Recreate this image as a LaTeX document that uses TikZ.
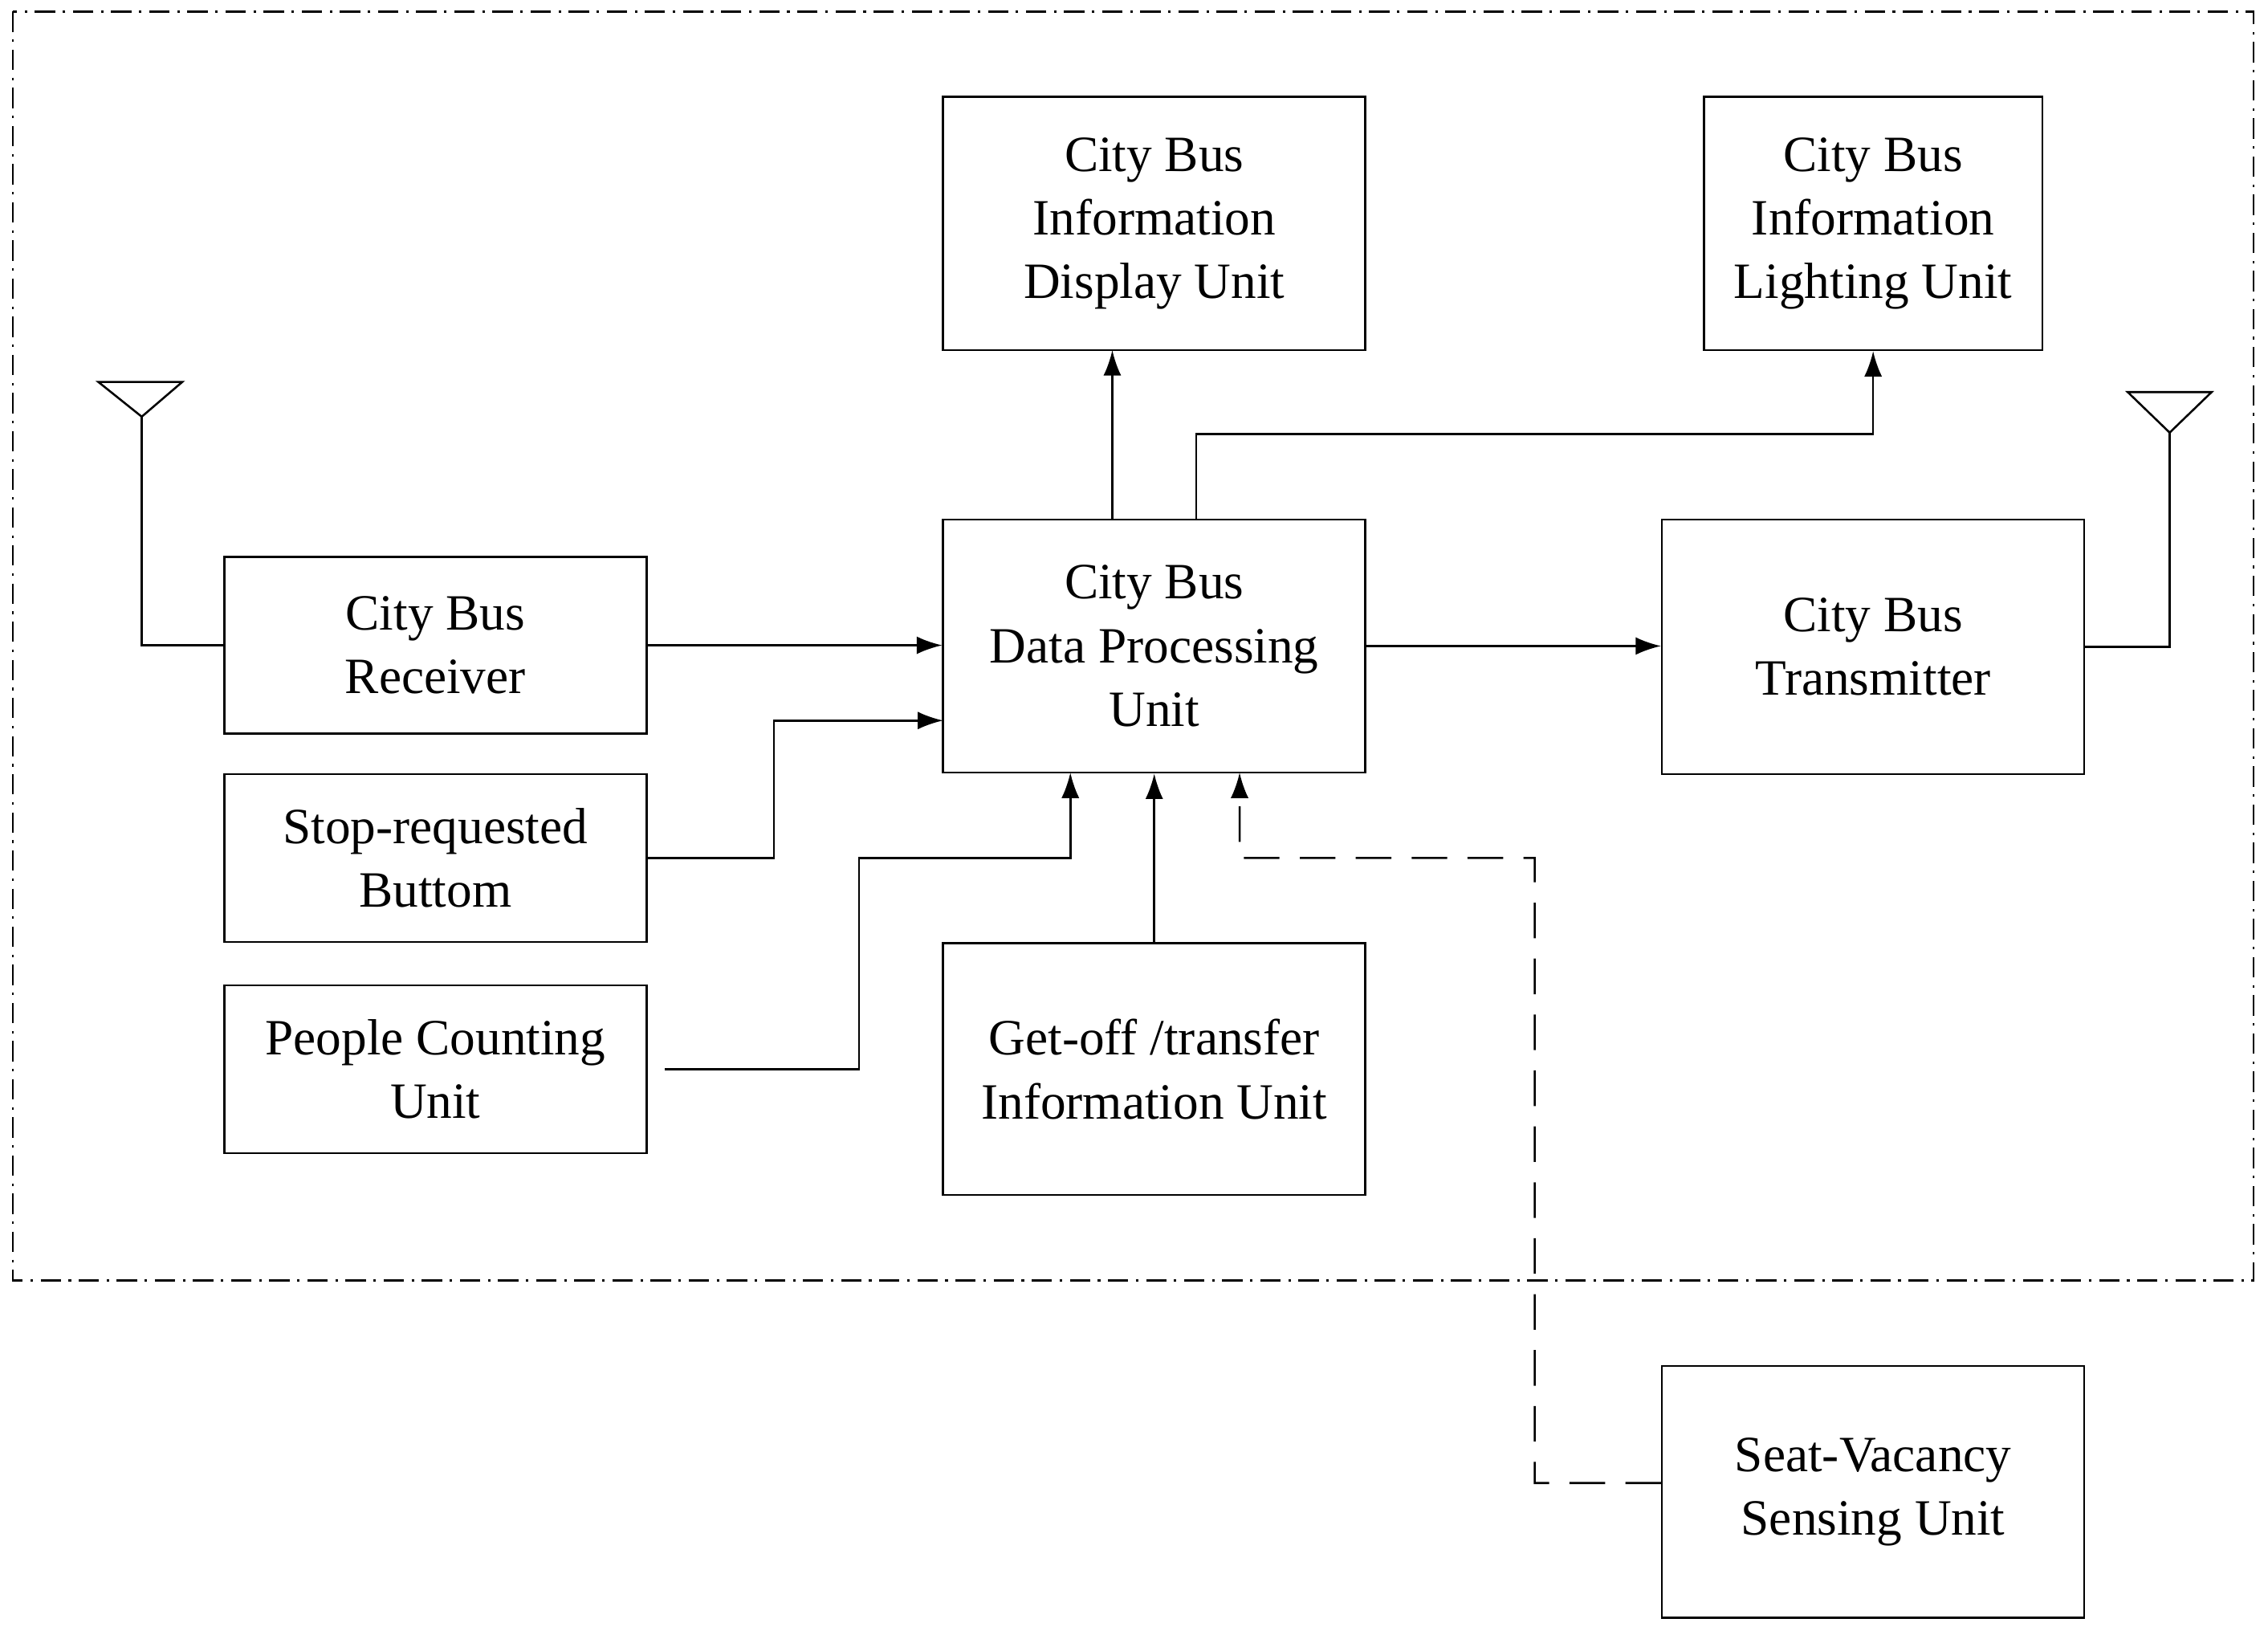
\documentclass[tikz,border=0pt]{standalone}
\usepackage{fontspec}
\setmainfont{Liberation Serif}
\usetikzlibrary{arrows.meta}
\begin{document}
\begin{tikzpicture}[x=0.02cm,y=-0.02cm,
    box/.style={draw, thick, align=center, inner sep=0pt, font=\fontsize{20}{25}\selectfont},
    arr/.style={thick, -{Latex[length=10pt,width=7pt]}},
    ant/.style={thick}]
        \useasboundingbox (0,0) rectangle (1568,1130);
        \draw[thick, dash pattern=on 8pt off 3pt on 1pt off 3pt] (9,8) rectangle (1558,885);

        % boxes
        \node[box, minimum width=5.84cm, minimum height=3.5cm] (disp) at (798,154.5) {City Bus\\Information\\Display Unit};
        \node[box, minimum width=4.68cm, minimum height=3.5cm] (light) at (1295,154.5) {City Bus\\Information\\Lighting Unit};
        \node[box, minimum width=5.84cm, minimum height=2.44cm] (recv) at (301,446) {City Bus\\Receiver};
        \node[box, minimum width=5.84cm, minimum height=3.5cm] (dpu) at (798,446.5) {City Bus\\Data Processing\\Unit};
        \node[box, minimum width=5.84cm, minimum height=3.52cm] (trans) at (1295,447) {City Bus\\Transmitter};
        \node[box, minimum width=5.84cm, minimum height=2.32cm] (stop) at (301,593) {Stop-requested\\Buttom};
        \node[box, minimum width=5.84cm, minimum height=2.32cm] (ppl) at (301,739) {People Counting\\Unit};
        \node[box, minimum width=5.84cm, minimum height=3.48cm] (getoff) at (798,739) {Get-off /transfer\\Information Unit};
        \node[box, minimum width=5.84cm, minimum height=3.48cm] (seat) at (1295,1031) {Seat-Vacancy\\Sensing Unit};

        % antennas
        \coordinate (antl) at (98,288);
        \coordinate (antr) at (1500,299);
        \draw[ant] (68,264) -- (126,264) -- (antl) -- cycle;
        \draw[ant] (1471,271) -- (1529,271) -- (antr) -- cycle;
        \draw[ant] (antl) |- (recv.west);
        \draw[ant] (antr) |- (trans.east);

        % connectors
        \draw[arr] (recv.east) -- (recv.east -| dpu.west);
        \draw[arr] (dpu.east) -- (dpu.east -| trans.west);
        \draw[arr] (stop.east) -- (535,593) -- (535,498) -- (652,498);
        \draw[arr] ([xshift=0.24cm]ppl.east) -- (594,739) -- (594,593) -- (740,593) -- (740,534);
        \draw[arr] (getoff.north) -- (dpu.south);
        \draw[arr] (769,359) -- (769,242);
        \draw[arr] (827,359) -- (827,300) -- (1295,300) -- (light.south);
        \draw[arr, dash pattern=on 14pt off 8pt] ([yshift=0.12cm]seat.west) -- (1061,1025) -- (1061,593) -- (857,593) -- (857,534);
\end{tikzpicture}
\end{document}
